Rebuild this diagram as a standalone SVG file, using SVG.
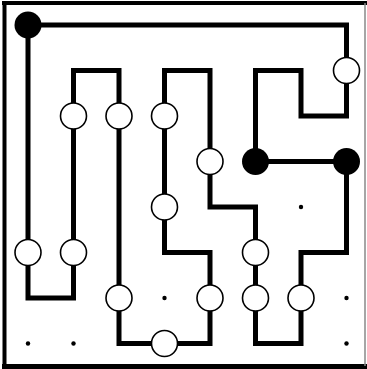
<svg xmlns="http://www.w3.org/2000/svg" width="367" height="369" viewBox="0 0 367 369">
<style>
.frame{stroke:#000;fill:none}
.path{fill:none;stroke:#000;stroke-width:5;stroke-linejoin:miter;stroke-linecap:square}
.w{fill:#fff;stroke:#000;stroke-width:1.6}
.b{fill:#000}
.d{fill:#000}
</style>
<rect width="367" height="369" fill="#fff"/>
<g id="frame">
<line class="frame" x1="2" y1="3" x2="367" y2="3" stroke-width="4"/>
<line class="frame" x1="4.5" y1="1" x2="4.5" y2="369" stroke-width="4"/>
<line class="frame" x1="2" y1="366.5" x2="367" y2="366.5" stroke-width="5"/>
<line x1="365" y1="3" x2="365" y2="366" stroke="#888" stroke-width="1.5"/>
</g>
<g id="connectors">
<path class="path" d="M28 25 H346.5 V116 H301 V70.5 H255.5 V161.5 H346.5 V252.5 H301 V343.5 H255.5 V207 H210 V70.5 H164.5 V252.5 H210 V343.5 H119 V70.5 H73.5 V298 H28 Z"/>
</g>
<g id="dots">
<circle class="d" cx="301" cy="207" r="2.2"/>
<circle class="d" cx="164.5" cy="298" r="2.2"/>
<circle class="d" cx="346.5" cy="298" r="2.2"/>
<circle class="d" cx="28" cy="343.5" r="2.2"/>
<circle class="d" cx="73.5" cy="343.5" r="2.2"/>
<circle class="d" cx="346.5" cy="343.5" r="2.2"/>
</g>
<g id="black-pearls">
<circle id="b00" class="b" cx="28" cy="25" r="13.5"/>
<circle id="b53" class="b" cx="255.5" cy="161.5" r="13.5"/>
<circle id="b73" class="b" cx="346.5" cy="161.5" r="13.5"/>
</g>
<g id="white-pearls">
<circle id="w71" class="w" cx="346.5" cy="70.5" r="13"/>
<circle id="w12" class="w" cx="73.5" cy="116" r="13"/>
<circle id="w22" class="w" cx="119" cy="116" r="13"/>
<circle id="w32" class="w" cx="164.5" cy="116" r="13"/>
<circle id="w43" class="w" cx="210" cy="161.5" r="13"/>
<circle id="w34" class="w" cx="164.5" cy="207" r="13"/>
<circle id="w05" class="w" cx="28" cy="252.5" r="13"/>
<circle id="w15" class="w" cx="73.5" cy="252.5" r="13"/>
<circle id="w55" class="w" cx="255.5" cy="252.5" r="13"/>
<circle id="w26" class="w" cx="119" cy="298" r="13"/>
<circle id="w46" class="w" cx="210" cy="298" r="13"/>
<circle id="w56" class="w" cx="255.5" cy="298" r="13"/>
<circle id="w66" class="w" cx="301" cy="298" r="13"/>
<circle id="w37" class="w" cx="164.5" cy="343.5" r="13"/>
</g>
</svg>
